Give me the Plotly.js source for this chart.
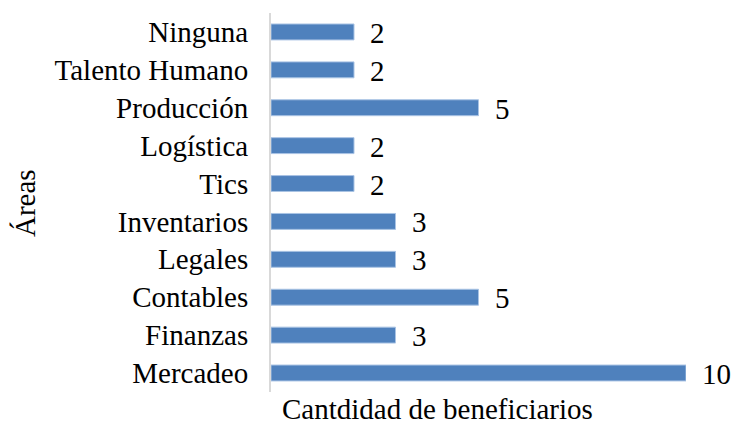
<!DOCTYPE html>
<html>
<head>
<meta charset="utf-8">
<script src="https://cdn.plot.ly/plotly-3.0.1.min.js"></script>
<style>html,body{margin:0;padding:0;background:#fff;}#chart{width:734px;height:426px;}</style>
</head>
<body>
<div id="chart"></div>
<script>
const categories = ["Mercadeo", "Finanzas", "Contables", "Legales", "Inventarios", "Tics", "Logística", "Producción", "Talento Humano", "Ninguna"];
const values = [10, 3, 5, 3, 3, 2, 2, 5, 2, 2];
const xTitle = "Cantdidad de beneficiarios";
const yTitle = "Áreas";

const FONT = "'Liberation Serif', 'Times New Roman', Times, serif";
const FS = 29;
const labelAnnotations = categories.map((c, i) => ({
  x: values[i], y: c, xref: "x", yref: "y",
  text: String(values[i]), showarrow: false,
  xanchor: "left", yanchor: "middle", xshift: 14, yshift: -1,
  font: {family: FONT, size: FS, color: "#000"}
}));

const data = [{
  type: "bar", orientation: "h",
  x: values, y: categories,
  marker: {color: "#4f81bd", line: {color: "#a9c3e4", width: 1}},
  hoverinfo: "none"
}];

const layout = {
  width: 734, height: 426,
  margin: {l: 271, r: 48, t: 13, b: 34},
  paper_bgcolor: "#fff", plot_bgcolor: "#fff",
  bargap: 0.58,
  showlegend: false,
  font: {family: FONT, size: FS, color: "#000"},
  xaxis: {range: [0, 10], showgrid: false, zeroline: false, showline: false, showticklabels: false, ticks: ""},
  yaxis: {type: "category", categoryorder: "array", categoryarray: categories,
    showgrid: false, zeroline: false, showline: true, linecolor: "#d9d9d9", linewidth: 2,
    ticks: "", ticklabelstandoff: 15, tickfont: {family: FONT, size: FS, color: "#000"}},
  annotations: labelAnnotations.concat([
    {text: xTitle, xref: "paper", yref: "paper", x: (437 - 271) / 415, y: -(409 - 392) / 379,
     xanchor: "center", yanchor: "middle", showarrow: false, font: {family: FONT, size: FS, color: "#000"}},
    {text: yTitle, xref: "paper", yref: "paper", x: (25 - 271) / 415, y: 0.5 - (203 - 202.5) / 379,
     xanchor: "center", yanchor: "middle", textangle: -90, showarrow: false, font: {family: FONT, size: FS, color: "#000"}}
  ])
};

Plotly.newPlot("chart", data, layout, {displayModeBar: false, staticPlot: true});
</script>
</body>
</html>
